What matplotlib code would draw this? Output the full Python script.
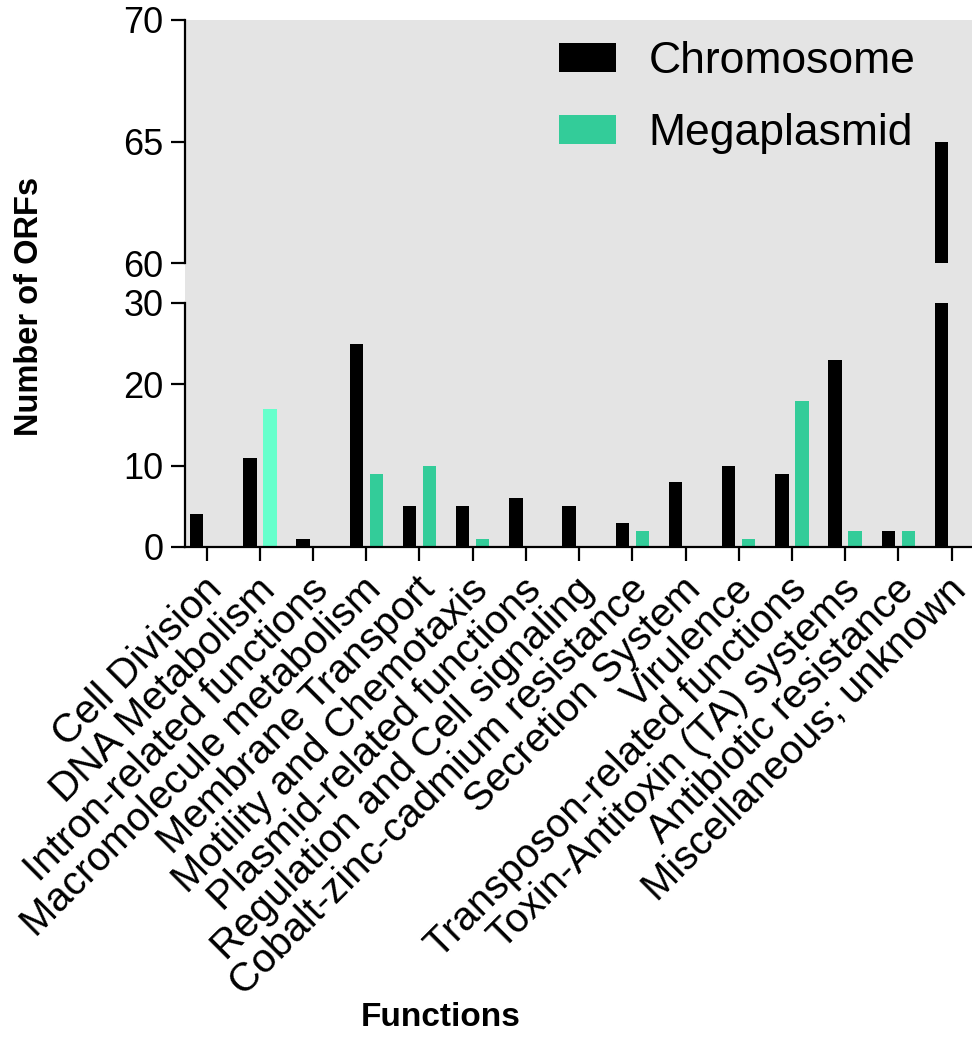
import matplotlib
matplotlib.use("Agg")
import matplotlib.pyplot as plt
import matplotlib.transforms as mtransforms
import numpy as np
from matplotlib.patches import Rectangle, Patch

plt.rcParams['font.family'] = ['Liberation Sans', 'DejaVu Sans']

categories = ["Cell Division", "DNA Metabolism", "Intron-related functions",
              "Macromolecule metabolism", "Membrane Transport", "Motility and Chemotaxis",
              "Plasmid-related functions", "Regulation and Cell signaling",
              "Cobalt-zinc-cadmium resistance", "Secretion System", "Virulence",
              "Transposon-related functions", "Toxin-Antitoxin (TA) systems",
              "Antibiotic resistance", "Miscellaneous; unknown"]
chromosome = [4, 11, 1, 25, 5, 5, 6, 5, 3, 8, 10, 9, 23, 2, 65]
megaplasmid = [0, 17, 0, 9, 10, 1, 0, 0, 2, 0, 1, 18, 2, 2, 0]
series_names = ["Chromosome", "Megaplasmid"]

black = "#000000"
teal = "#33CC99"
teal_light = "#66FFCC"
mega_colors = [teal_light if i == 1 else teal for i in range(len(categories))]
bg = "#E4E4E4"

W, H = 972, 1039
fig = plt.figure(figsize=(W / 100, H / 100), dpi=100)

def fx(px):
    return px / W

def fy(py):
    return 1 - py / H

left_px, right_px = 184.5, 972
top_up, bot_up = 20, 263
top_lo, bot_lo = 303, 547

ax_up = fig.add_axes([fx(left_px), fy(bot_up), fx(right_px - left_px), (bot_up - top_up) / H])
ax_lo = fig.add_axes([fx(left_px), fy(bot_lo), fx(right_px - left_px), (bot_lo - top_lo) / H])

# gray fill for the gap between the two axes
fig.patches.append(Rectangle((fx(left_px), fy(bot_lo)), 1 - fx(left_px), (bot_lo - top_up) / H,
                             transform=fig.transFigure, facecolor=bg, edgecolor='none', zorder=-1))

x = np.arange(len(categories))
off = 0.188
bw = 0.25
lw = 1.6
ticklen = 10

for ax in (ax_up, ax_lo):
    ax.set_facecolor(bg)
    ax.bar(x - off, chromosome, width=bw, color=black, edgecolor='none')
    ax.bar(x + off, megaplasmid, width=bw, color=mega_colors, edgecolor='none')
    ax.set_xlim(-0.417, 14.385)
    for s in ('top', 'right'):
        ax.spines[s].set_visible(False)
    ax.spines['left'].set_linewidth(lw)
    ax.spines['bottom'].set_linewidth(lw)
    ax.tick_params(axis='y', direction='out', length=ticklen, width=lw, labelsize=26, pad=5)
    ax.tick_params(axis='y', which='minor', direction='in', length=ticklen, width=lw)

ax_up.set_ylim(60, 70)
ax_up.set_yticks([60, 65, 70])
ax_up.set_yticks([60], minor=True)
ax_up.spines['bottom'].set_visible(False)
ax_up.tick_params(axis='x', bottom=False, labelbottom=False)

ax_lo.set_ylim(0, 30)
ax_lo.set_yticks([0, 10, 20, 30])
ax_lo.set_yticks([30], minor=True)
ax_lo.set_xticks(x)
ax_lo.set_xticklabels(categories, rotation=45, ha='right', va='center', rotation_mode='anchor', fontsize=29)
ax_lo.tick_params(axis='x', direction='out', length=ticklen, width=lw, pad=10)
shift = mtransforms.ScaledTranslation(0.09, -0.09, fig.dpi_scale_trans)
for lab in ax_lo.get_xticklabels():
    lab.set_transform(lab.get_transform() + shift)

handles = [Patch(facecolor=black, edgecolor='none'), Patch(facecolor=teal, edgecolor='none')]
ax_up.legend(handles, series_names, loc='upper left',
             bbox_to_anchor=(fx(559), fy(41)), bbox_transform=fig.transFigure,
             frameon=False, fontsize=32, handlelength=1.28, handleheight=0.65,
             handletextpad=0.74, labelspacing=0.7, borderpad=0, borderaxespad=0)

fig.text(fx(29.5), fy(306), "Number of ORFs", rotation=90, fontsize=23.5, fontweight='bold',
         ha='center', va='center')
fig.text(fx(441), fy(1018), "Functions", fontsize=24, fontweight='bold', ha='center', va='center')

fig.savefig("out.png", dpi=100)
